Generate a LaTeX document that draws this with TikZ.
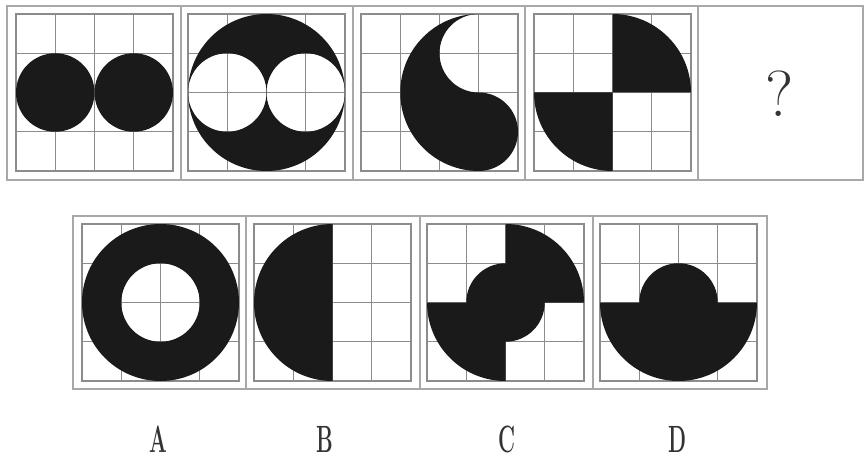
\documentclass[tikz,border=0pt]{standalone}
\definecolor{gridc}{HTML}{8C8C8C}
\definecolor{framec}{HTML}{A8A8A8}
\definecolor{ink}{HTML}{1A1A1A}
\definecolor{txt}{HTML}{333333}
\begin{document}
\begin{tikzpicture}[x=1pt,y=1pt,
  frame/.style={draw=framec,line width=1.2pt},
  gridline/.style={draw=gridc,line width=0.9pt},
  gridborder/.style={draw=gridc,line width=1.4pt},
  blk/.style={fill=ink},
  lbl/.style={text=txt,font=\fontsize{38}{38}\selectfont\bfseries,xscale=0.55,inner sep=0pt},
  qmark/.style={text=txt,font=\fontsize{65}{65}\selectfont,inner sep=0pt}]
\useasboundingbox (0,0) rectangle (864,461);
\fill[white] (0,0) rectangle (864,461);
% ---------- top row frame ----------
\draw[frame] (7,281) rectangle (863,455);
\foreach \xx in {181,353,525,698} \draw[frame] (\xx,281) -- (\xx,455);
% ---------- bottom row frame ----------
\draw[frame] (73,72) rectangle (767,245);
\foreach \xx in {246,420,593} \draw[frame] (\xx,72) -- (\xx,245);
% ---------- panel 1 ----------
\begin{scope}[shift={(16,290)},x=39.25pt,y=39.25pt]
  \draw[gridline] (0,0) grid[step={(1,1)}] (4,4); \draw[gridborder] (0,0) rectangle (4,4);
  \fill[blk] (1,2) circle (1);
  \fill[blk] (3,2) circle (1);
\end{scope}
% ---------- panel 2 ----------
\begin{scope}[shift={(188,290)},x=39.25pt,y=39.25pt]
  \draw[gridline] (0,0) grid[step={(1,1)}] (4,4); \draw[gridborder] (0,0) rectangle (4,4);
  \fill[blk,even odd rule] (2,2) circle (2) (1,2) circle (1) (3,2) circle (1);
\end{scope}
% ---------- panel 3 ----------
\begin{scope}[shift={(361,290)},x=39.25pt,y=39.25pt]
  \draw[gridline] (0,0) grid[step={(1,1)}] (4,4); \draw[gridborder] (0,0) rectangle (4,4);
  \fill[blk] (3,4) arc[start angle=90,end angle=270,radius=2]
     arc[start angle=-90,end angle=90,radius=1]
     arc[start angle=270,end angle=90,radius=1] -- cycle;
\end{scope}
% ---------- panel 4 ----------
\begin{scope}[shift={(534,290)},x=39.25pt,y=39.25pt]
  \draw[gridline] (0,0) grid[step={(1,1)}] (4,4); \draw[gridborder] (0,0) rectangle (4,4);
  \fill[blk] (2,2) -- (2,4) arc[start angle=90,end angle=0,radius=2] -- cycle;
  \fill[blk] (2,2) -- (0,2) arc[start angle=180,end angle=270,radius=2] -- cycle;
\end{scope}
\node[qmark] (q) at (780,367) {?};
% ---------- option A ----------
\begin{scope}[shift={(82,80)},x=39.25pt,y=39.25pt]
  \draw[gridline] (0,0) grid[step={(1,1)}] (4,4); \draw[gridborder] (0,0) rectangle (4,4);
  \fill[blk,even odd rule] (2,2) circle (2) (2,2) circle (1);
\end{scope}
% ---------- option B ----------
\begin{scope}[shift={(254,80)},x=39.25pt,y=39.25pt]
  \draw[gridline] (0,0) grid[step={(1,1)}] (4,4); \draw[gridborder] (0,0) rectangle (4,4);
  \fill[blk] (2,4) arc[start angle=90,end angle=270,radius=2] -- cycle;
\end{scope}
% ---------- option C ----------
\begin{scope}[shift={(427,80)},x=39.25pt,y=39.25pt]
  \draw[gridline] (0,0) grid[step={(1,1)}] (4,4); \draw[gridborder] (0,0) rectangle (4,4);
  \fill[blk] (2,2) -- (2,4) arc[start angle=90,end angle=0,radius=2] -- cycle;
  \fill[blk] (2,2) -- (0,2) arc[start angle=180,end angle=270,radius=2] -- cycle;
  \fill[blk] (2,2) circle (1);
\end{scope}
% ---------- option D ----------
\begin{scope}[shift={(600,80)},x=39.25pt,y=39.25pt]
  \draw[gridline] (0,0) grid[step={(1,1)}] (4,4); \draw[gridborder] (0,0) rectangle (4,4);
  \fill[blk] (0,2) arc[start angle=180,end angle=360,radius=2] -- cycle;
  \fill[blk] (2,2) circle (1);
\end{scope}
% ---------- labels ----------
\node[lbl] (la) at (158,22) {A};
\node[lbl] (lb) at (325,22) {B};
\node[lbl] (lc) at (507,22) {C};
\node[lbl] (ld) at (677,22) {D};
\end{tikzpicture}
\end{document}
